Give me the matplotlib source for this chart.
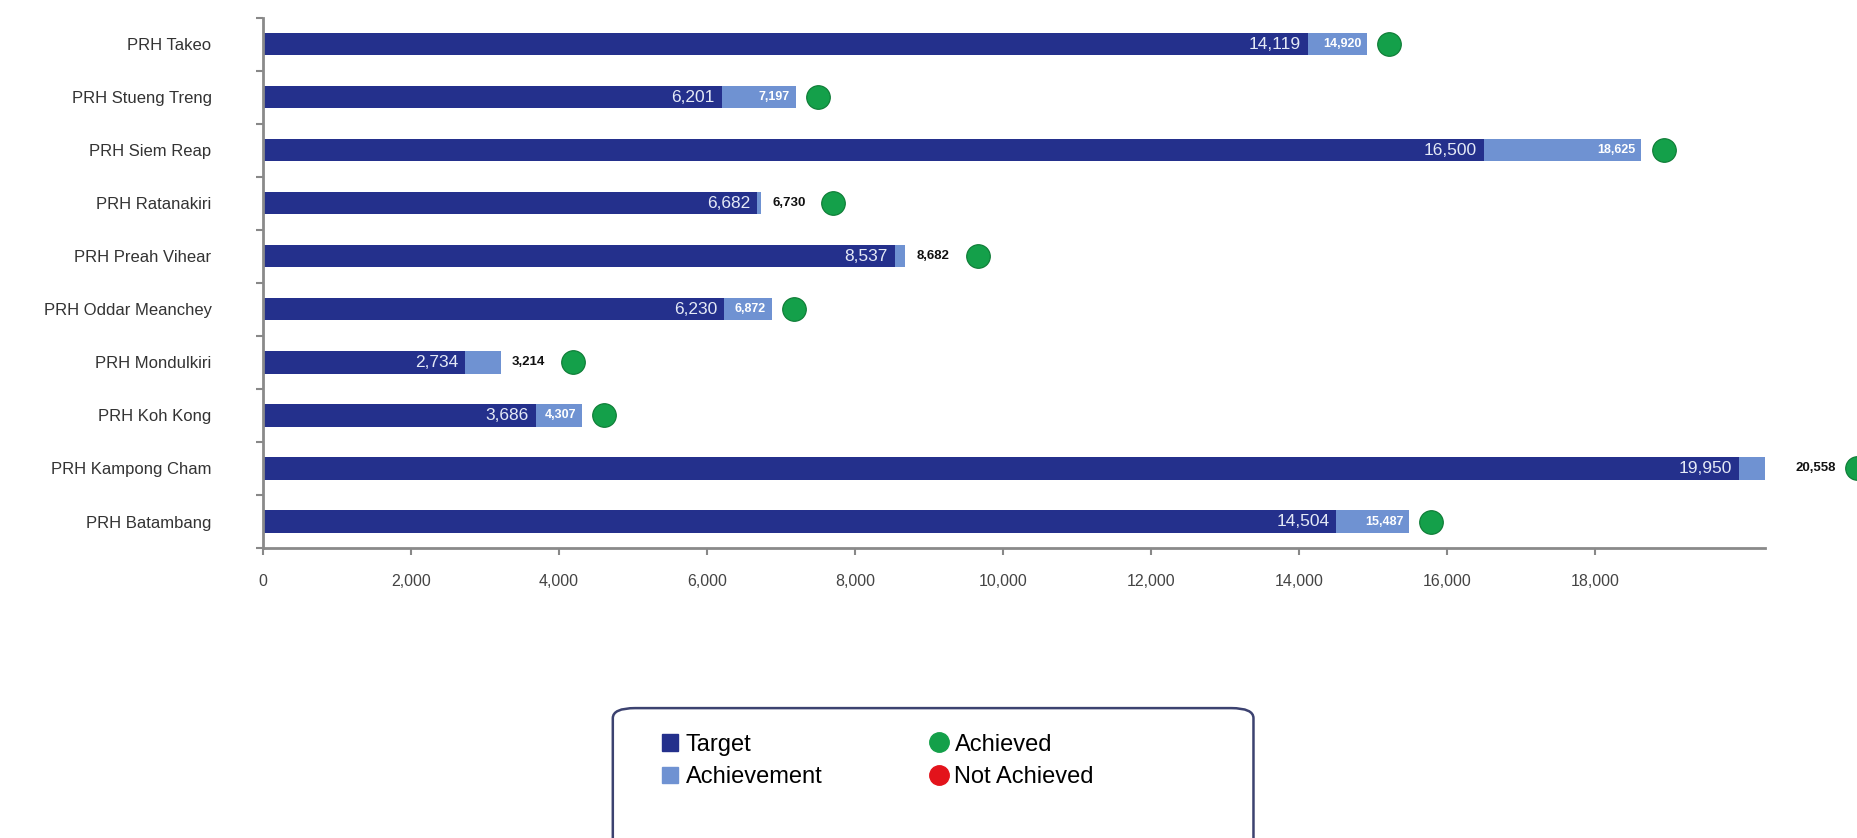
"""Target vs achievement per provincial referral hospital."""
import matplotlib
matplotlib.use("Agg")
import matplotlib.pyplot as plt
from matplotlib.lines import Line2D
from matplotlib.patches import Patch, FancyBboxPatch
from matplotlib.transforms import ScaledTranslation

plt.rcParams.update({
    "font.family": ["Liberation Sans Narrow", "Liberation Sans", "DejaVu Sans"],
    "font.size": 11,
})

hospitals = ["PRH Takeo", "PRH Stueng Treng", "PRH Siem Reap", "PRH Ratanakiri",
             "PRH Preah Vihear", "PRH Oddar Meanchey", "PRH Mondulkiri",
             "PRH Koh Kong", "PRH Kampong Cham", "PRH Batambang"]
target = [14119, 6201, 16500, 6682, 8537, 6230, 2734, 3686, 19950, 14504]
achievement = [14920, 7197, 18625, 6730, 8682, 6872, 3214, 4307, 20558, 15487]
xticks = [0, 2000, 4000, 6000, 8000, 10000, 12000, 14000, 16000, 18000]

DARK = "#24308c"
LIGHT = "#6f92d2"
GREEN = "#14a04a"
RED = "#e3131b"

fig = plt.figure(figsize=(18.57, 8.38), dpi=100)
ax = fig.add_axes([0.1416, 0.346, 0.809, 0.633])

y = list(range(len(hospitals)))
extra = [a - t for a, t in zip(achievement, target)]
ax.barh(y, target, height=0.42, color=DARK)
ax.barh(y, extra, left=target, height=0.42, color=LIGHT)

for yi, t, a, e in zip(y, target, achievement, extra):
    ax.annotate(f"{t:,}", (t, yi), xytext=(-5, 0), textcoords="offset points",
                ha="right", va="center", color="#e4e9f6", fontsize=12.5)
    if e >= 615:
        ax.annotate(f"{a:,}", (a, yi), xytext=(-4, 0), textcoords="offset points",
                    ha="right", va="center", color="white", fontsize=9,
                    fontweight="bold")
        dot_off = 16
    else:
        ax.annotate(f"{a:,}", (a, yi), xytext=(8, 0), textcoords="offset points",
                    ha="left", va="center", color="#111111", fontsize=9.5,
                    fontweight="bold", annotation_clip=False)
        dot_off = 52
    ax.plot([a], [yi], "o", ms=17, color=GREEN, mec="#0c7a34", mew=0.8,
            clip_on=False,
            transform=ax.transData + ScaledTranslation(dot_off / 72, 0,
                                                       fig.dpi_scale_trans))

ax.set_xlim(0, 20300)
ax.set_ylim(len(hospitals) - 0.5, -0.5)
ax.set_yticks(y)
ax.set_yticklabels(hospitals, fontsize=12, color="#333333")
ax.set_yticks([i - 0.5 for i in range(len(hospitals) + 1)], minor=True)
ax.tick_params(axis="y", which="major", length=0, pad=37)
ax.tick_params(axis="y", which="minor", length=5, width=1.5, color="#888888")
ax.set_xticks(xticks)
ax.set_xticklabels([f"{v:,}" for v in xticks], fontsize=11.5, color="#444444")
ax.tick_params(axis="x", length=5, width=1.5, color="#888888", pad=14)

for s in ["top", "right"]:
    ax.spines[s].set_visible(False)
for s in ["left", "bottom"]:
    ax.spines[s].set_color("#8a8a8a")
    ax.spines[s].set_linewidth(2)

# legend frame, cut off by the bottom edge like the original
frame = FancyBboxPatch((0.330, -0.05), 0.345, 0.205, transform=fig.transFigure,
                       boxstyle="round,pad=0,rounding_size=0.012",
                       fc="white", ec="#3c4270", lw=1.8)
fig.patches.append(frame)

handles = [Patch(color=DARK, label="Target"),
           Patch(color=LIGHT, label="Achievement"),
           Line2D([], [], marker="o", ls="", ms=14, color=GREEN, label="Achieved"),
           Line2D([], [], marker="o", ls="", ms=14, color=RED, label="Not Achieved")]
fig.legend(handles=handles, ncol=2, loc="upper left", bbox_to_anchor=(0.345, 0.150),
           frameon=False, handlelength=0.7, handleheight=0.7,
           handletextpad=0.3, columnspacing=4.6, labelspacing=0.45,
           prop={"family": ["Liberation Sans", "DejaVu Sans"], "size": 17})

fig.savefig("out.png", dpi=100, facecolor="white")
plt.close(fig)
